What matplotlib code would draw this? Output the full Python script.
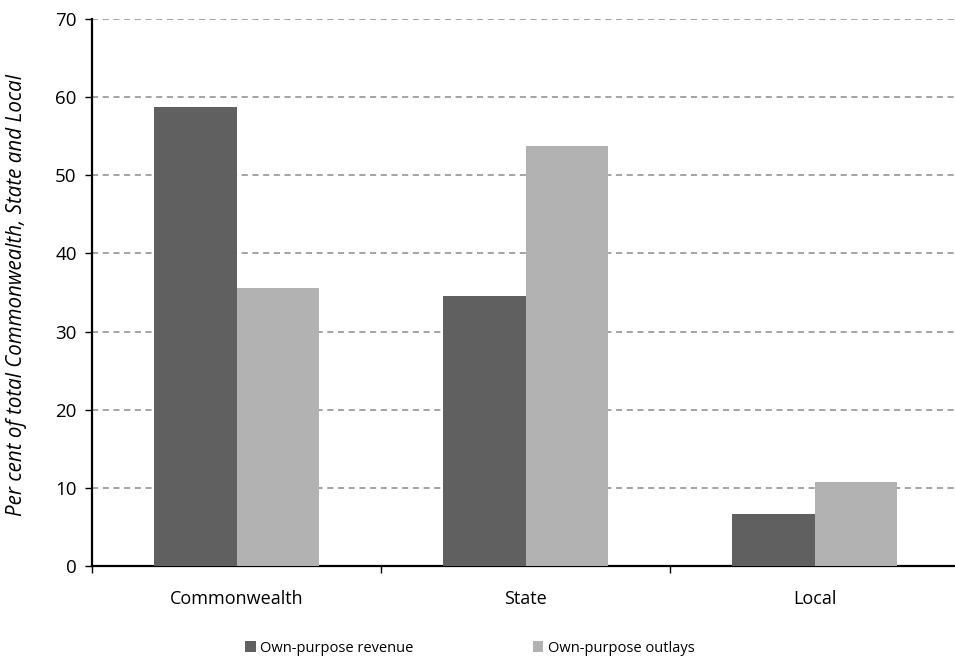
import numpy as np
import matplotlib
matplotlib.use("Agg")
import matplotlib.pyplot as plt

# data
categories = ["Commonwealth", "State", "Local"]
revenue = [58.8, 34.6, 6.7]
outlays = [35.6, 53.7, 10.8]
series_names = ["Own-purpose revenue", "Own-purpose outlays"]

plt.rcParams["font.family"] = ["Open Sans", "DejaVu Sans"]

fig = plt.figure(figsize=(9.55, 6.58), dpi=100)
W, H = 955, 658
# axes area in pixels: left 92, top 19, bottom 566, one category = 289 px
ax = fig.add_axes([92 / W, (H - 566) / H, 867 / W, (566 - 19) / H])

x = np.arange(len(categories))
bw = 0.287
ax.bar(x - bw / 2, revenue, width=bw, color="#606060", label=series_names[0], zorder=3)
ax.bar(x + bw / 2, outlays, width=bw, color="#b2b2b2", label=series_names[1], zorder=3)

ax.set_xlim(-0.5, 2.5)
ax.set_ylim(0, 70)
ax.set_yticks(range(0, 71, 10))
ax.yaxis.grid(True, linestyle=(0, (4, 3)), color="#8c8c8c", linewidth=1.1, zorder=0)
ax.set_axisbelow(True)

ax.set_xticks(x)
ax.set_xticklabels(categories, fontsize=13)
ax.set_xticks([-0.5, 0.5, 1.5, 2.5], minor=True)
ax.tick_params(axis="x", which="major", length=0, pad=17)
ax.tick_params(axis="x", which="minor", length=5, width=1, direction="out")
ax.tick_params(axis="y", labelsize=13.5, length=5, width=1, pad=6)

for s in ["top", "right"]:
    ax.spines[s].set_visible(False)
for s in ["left", "bottom"]:
    ax.spines[s].set_linewidth(1.6)
    ax.spines[s].set_color("black")

ax.set_ylabel("Per cent of total Commonwealth, State and Local", fontsize=14.8,
              style="italic")
ax.yaxis.set_label_coords(-0.075, 0.495)

fig.legend(loc="center", bbox_to_anchor=(0.492, 1 - 648 / H), ncol=2, frameon=False,
           fontsize=10.5, handlelength=0.7, handleheight=0.7, handletextpad=0.3,
           columnspacing=8.2)

fig.savefig("out.png", dpi=100)
